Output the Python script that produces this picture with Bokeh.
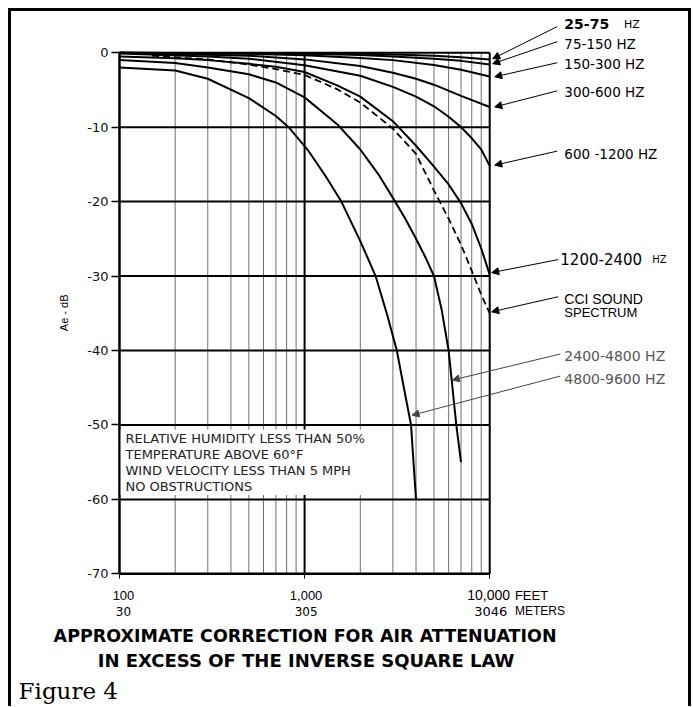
import math
from bokeh.plotting import figure
from bokeh.models import FixedTicker, Label, Arrow, NormalHead
from bokeh.embed import file_html
from bokeh.resources import INLINE

# ---------------- data ----------------
X_MAJOR = [100, 1000, 10000]
X_GRID = [100, 200, 300, 400, 500, 600, 700, 800, 900,
          1000, 2000, 3000, 4000, 5000, 6000, 7000, 8000, 9000, 10000]
Y_TICKS = [0, -10, -20, -30, -40, -50, -60, -70]
Y_LABELS = ["0", "-10", "-20", "-30", "-40", "-50", "-60", "-70"]
X_FEET_LABELS = ["100", "1,000", "10,000"]
X_METER_LABELS = ["30", "305", "3046"]

D_25_75 = [100, 1000, 2000, 3000, 5000, 7000, 10000]
A_25_75 = [0.0, -0.1, -0.15, -0.25, -0.4, -0.6, -0.9]

D_75_150 = [100, 1000, 2000, 3000, 5000, 7000, 10000]
A_75_150 = [0.0, -0.15, -0.3, -0.5, -0.8, -1.1, -1.6]

D_150_300 = [100, 500, 1000, 2000, 3000, 5000, 7000, 10000]
A_150_300 = [0.0, -0.15, -0.35, -0.7, -1.0, -1.65, -2.3, -3.2]

D_300_600 = [100, 500, 1000, 2000, 3000, 4000, 5000, 7000, 10000]
A_300_600 = [0.0, -0.4, -0.9, -1.8, -2.7, -3.5, -4.3, -5.8, -7.3]

D_600_1200 = [100, 300, 500, 1000, 2000, 3000, 4000, 5000, 6000, 7000, 8000, 9000, 10000]
A_600_1200 = [-0.1, -0.5, -0.8, -1.7, -3.1, -4.6, -5.9, -7.2, -8.6, -10.0, -11.5, -13.0, -15.2]

D_1200_2400 = [100, 200, 300, 500, 700, 1000, 1500, 2000, 3000, 4000, 5000, 6000, 7000, 8000, 9000, 10000]
A_1200_2400 = [-0.5, -0.75, -1.0, -1.5, -1.9, -2.6, -4.4, -5.9, -9.2, -12.5, -15.3, -17.7, -20.2, -23.0, -26.3, -29.8]

D_CCI = [150, 300, 500, 700, 1000, 1500, 2000, 3000, 4000, 5000, 6000, 7000, 8000, 9000, 10000]
A_CCI = [-0.4, -0.9, -1.6, -2.2, -3.0, -4.9, -6.7, -10.2, -13.6, -18.5, -22.3, -25.8, -29.3, -32.5, -35.0]

D_2400_4800 = [100, 200, 300, 500, 700, 1000, 1500, 2000, 2500, 3000, 3500, 4000, 4500, 5000, 5500, 6000, 6600, 7000]
A_2400_4800 = [-1.0, -1.4, -2.0, -2.9, -4.0, -6.0, -9.6, -13.0, -16.3, -19.5, -22.3, -25.0, -27.5, -30.0, -34.5, -40.0, -50.0, -55.0]

D_4800_9600 = [100, 200, 300, 500, 700, 820, 1050, 1300, 1580, 2000, 2420, 2800, 3150, 3500, 3760, 3900, 4000]
A_4800_9600 = [-2.0, -2.4, -3.5, -6.1, -8.5, -10.0, -13.2, -16.6, -20.0, -25.3, -30.0, -35.3, -40.0, -46.0, -50.0, -56.0, -60.0]

NOTE_LINES = ["RELATIVE HUMIDITY LESS THAN 50%",
              "TEMPERATURE ABOVE 60°F",
              "WIND VELOCITY LESS THAN 5 MPH",
              "NO OBSTRUCTIONS"]


# page-pixel -> data helpers for placing annotations
def fx(px):
    return 10 ** (2 + (px - 118) / 183.5)


def fy(py):
    return -(py - 52) / 7.414


# canvas occupies page x 11..688, y 11..706 (inside a 3px frame border)
p = figure(width=683, height=698, x_axis_type="log",
           x_range=(fx(11), fx(688)), y_range=(fy(706), fy(11)),
           output_backend="svg", toolbar_location=None,
           min_border=0, min_border_left=0, min_border_right=0,
           min_border_top=0, min_border_bottom=0)
p.styles = {"margin-left": "8px", "margin-top": "8px",
            "border-top": "3px solid black", "border-left": "3px solid black",
            "border-right": "3px solid black"}
p.title.visible = False
p.background_fill_color = "white"
p.border_fill_color = "white"
p.outline_line_color = None
p.xgrid.visible = False
p.ygrid.visible = False

# axes (placed at the chart's own edges)
p.yaxis.fixed_location = X_MAJOR[0]
p.yaxis.bounds = (Y_TICKS[-1], Y_TICKS[0])
p.yaxis.ticker = FixedTicker(ticks=Y_TICKS)
p.yaxis.major_label_overrides = {t: s for t, s in zip(Y_TICKS, Y_LABELS)}
p.yaxis.major_label_text_font = "DejaVu Sans"
p.yaxis.major_label_text_font_size = "13px"
p.yaxis.major_label_text_color = "#111111"
p.yaxis.major_label_standoff = 3
p.yaxis.major_tick_out = 8
p.yaxis.major_tick_in = 0
p.yaxis.major_tick_line_width = 1.5
p.yaxis.minor_tick_line_color = None
p.yaxis.axis_line_width = 2

p.xaxis.fixed_location = Y_TICKS[-1]
p.xaxis.bounds = (X_MAJOR[0], X_MAJOR[-1])
p.xaxis.ticker = FixedTicker(ticks=X_MAJOR)
p.xaxis.major_label_overrides = {t: "" for t in X_MAJOR}
p.xaxis.major_tick_out = 5
p.xaxis.major_tick_in = 0
p.xaxis.minor_tick_line_color = None
p.xaxis.axis_line_width = 2

# grid
n = len(X_GRID)
p.segment(x0=X_GRID, y0=[Y_TICKS[-1]] * n, x1=X_GRID, y1=[Y_TICKS[0]] * n,
          line_color="#707070", line_width=1)
m = len(X_MAJOR)
p.segment(x0=X_MAJOR, y0=[Y_TICKS[-1]] * m, x1=X_MAJOR, y1=[Y_TICKS[0]] * m,
          line_color="black", line_width=2)
k = len(Y_TICKS)
p.segment(x0=[X_MAJOR[0]] * k, y0=Y_TICKS, x1=[X_MAJOR[-1]] * k, y1=Y_TICKS,
          line_color="black", line_width=2)

# note box (blank area hiding the grid)
p.quad(left=[X_MAJOR[0]], right=[fx(383)], top=[-50.6], bottom=[-59.4],
       fill_color="white", line_color=None)

# curves
for d, a in [(D_25_75, A_25_75), (D_75_150, A_75_150), (D_150_300, A_150_300),
             (D_300_600, A_300_600), (D_600_1200, A_600_1200), (D_1200_2400, A_1200_2400),
             (D_2400_4800, A_2400_4800), (D_4800_9600, A_4800_9600)]:
    p.line(d, a, line_color="black", line_width=2)
p.line(D_CCI, A_CCI, line_color="black", line_width=1.8, line_dash="7 4")


def lab(text, px, py, size, font="DejaVu Sans", style="normal", align="left",
        color="black", angle=0.0):
    p.add_layout(Label(x=fx(px), y=fy(py), text=text, text_font=font,
                       text_font_size=f"{size}px", text_font_style=style,
                       text_align=align, text_baseline="middle", text_color=color,
                       angle=angle))


def arrow(x0, y0, x1, y1, color="black"):
    p.add_layout(Arrow(end=NormalHead(size=7, fill_color=color, line_color=color),
                       x_start=fx(x0), y_start=fy(y0), x_end=fx(x1), y_end=fy(y1),
                       line_color=color, line_width=1))


# y axis title
lab("Ae - dB", 63, 311, 11, font="Liberation Sans", align="center", angle=math.pi / 2)

# notes in the box
for i, line in enumerate(NOTE_LINES):
    lab(line, 124, 436 + 16 * i, 13, color="#222222")

# x tick labels (feet / meters)
lab(X_FEET_LABELS[0], 122, 592, 13, font="Liberation Sans", align="center")
lab(X_FEET_LABELS[1], 303, 592, 13, font="Liberation Sans", align="center")
lab(X_FEET_LABELS[2], 484, 592, 14, font="Liberation Sans", align="center")
lab("FEET", 510, 592, 13, font="Liberation Sans")
lab(X_METER_LABELS[0], 122, 608, 12, align="center")
lab(X_METER_LABELS[1], 303, 608, 12, align="center")
lab(X_METER_LABELS[2], 486, 608, 13, align="center")
lab("METERS", 510, 608, 12, font="Liberation Sans")

# title and caption
lab("APPROXIMATE CORRECTION FOR AIR ATTENUATION", 302, 633, 17.5, style="bold", align="center")
lab("IN EXCESS OF THE INVERSE SQUARE LAW", 303, 657, 18, style="bold", align="center")
lab("Figure 4", 18, 688, 23, font="DejaVu Serif")

# band labels and leaders
lab("25-75", 559, 23, 14, style="bold")
lab("HZ", 618, 24, 11)
lab("75-150 HZ", 559, 43, 13.5)
lab("150-300 HZ", 559, 63, 13.5)
lab("300-600 HZ", 559, 91, 13.5)
lab("600 -1200 HZ", 559, 153, 13.5)
lab("1200-2400", 555, 257, 15)
lab("HZ", 646, 258, 10)
lab("CCI SOUND", 559, 297, 14, font="Liberation Sans")
lab("SPECTRUM", 559, 311, 13, font="Liberation Sans")
lab("2400-4800 HZ", 559, 354, 14, color="#555555")
lab("4800-9600 HZ", 559, 377, 14, color="#555555")

arrow(552, 26, 488, 58)
arrow(552, 41, 488, 63)
arrow(552, 62, 490, 76)
arrow(552, 90, 490, 106)
arrow(552, 150, 490, 164)
arrow(553, 258, 487, 271)
arrow(553, 295, 487, 310)
arrow(555, 352, 448, 378, color="#444444")
arrow(555, 374, 408, 413, color="#444444")

open("out.html", "w").write(file_html(p, INLINE))
